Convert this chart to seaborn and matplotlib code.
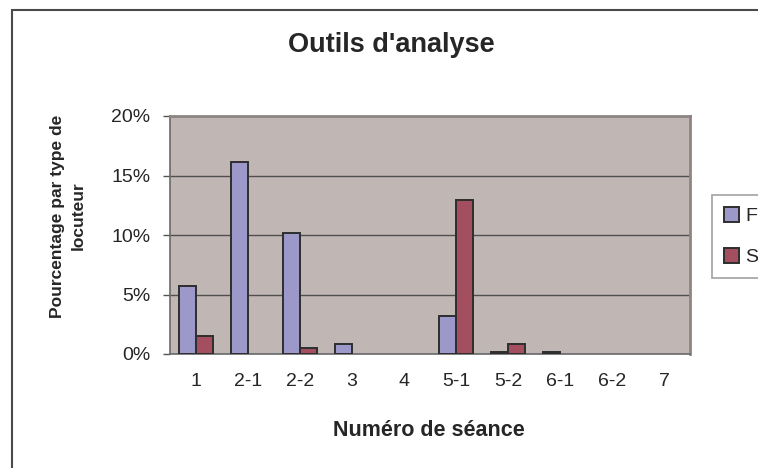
import matplotlib
matplotlib.use("Agg")
import matplotlib.pyplot as plt
import matplotlib.patches as mpatches
from matplotlib.ticker import FuncFormatter, FixedLocator
import seaborn as sns
import pandas as pd

categories = ["1", "2-1", "2-2", "3", "4", "5-1", "5-2", "6-1", "6-2", "7"]
series_f = [5.7, 16.1, 10.2, 0.8, 0.0, 3.2, 0.2, 0.2, 0.0, 0.0]
series_s = [1.5, 0.0, 0.5, 0.0, 0.0, 12.9, 0.8, 0.0, 0.0, 0.0]
series_names = ["F", "S"]
y_ticks = [0, 5, 10, 15, 20]

df = pd.DataFrame({
    "seance": categories * 2,
    "pct": series_f + series_s,
    "type": [series_names[0]] * len(categories) + [series_names[1]] * len(categories),
})

sns.set_theme(style="white")
plt.rcParams["font.family"] = ["Liberation Sans", "DejaVu Sans"]
txt = "#262626"

fig = plt.figure(figsize=(7.58, 4.68), dpi=100)
fig.patch.set_facecolor("white")
ax = fig.add_axes([170 / 758, 1 - 354 / 468, 520 / 758, 238 / 468])

sns.barplot(data=df, x="seance", y="pct", hue="type", order=categories,
            hue_order=series_names, palette=["#9c98ca", "#a44f5f"],
            width=0.65, edgecolor="#2e2e2e", linewidth=1.4, saturation=1,
            legend=False, ax=ax, zorder=3)

# bars of zero height are not drawn in the reference
for p in ax.patches:
    if p.get_height() == 0:
        p.set_visible(False)

ax.set_facecolor("#c0b7b4")
ax.set_xlim(-0.5, len(categories) - 0.5)
ax.set_ylim(0, 20)
ax.yaxis.set_major_locator(FixedLocator(y_ticks))
ax.yaxis.set_major_formatter(FuncFormatter(lambda v, p: f"{v:.0f}%"))
ax.grid(axis="y", color="#4f4f4f", linewidth=1.0, zorder=1)
ax.set_axisbelow(True)

ax.set_xticks(range(len(categories)))
ax.set_xticklabels(categories)
ax.set_xticks([i - 0.5 for i in range(len(categories) + 1)], minor=True)
ax.tick_params(axis="x", which="major", length=0, pad=14, labelsize=14, labelcolor=txt)
ax.tick_params(axis="x", which="minor", length=5, width=1, color="#555555", direction="out")
ax.tick_params(axis="y", which="major", length=5, width=1, color="#555555", direction="out",
               pad=9, labelsize=14, labelcolor=txt, left=True)

for side in ["top", "right"]:
    ax.spines[side].set_color("#8e8484")
    ax.spines[side].set_linewidth(2)
for side in ["left", "bottom"]:
    ax.spines[side].set_color("#6a6a6a")
    ax.spines[side].set_linewidth(1.2)

ax.set_xlabel("")
ax.set_ylabel("")

fig.text(391 / 758, 1 - 45 / 468, "Outils d'analyse", ha="center", va="center",
         fontsize=19.5, fontweight="bold", color=txt)
fig.text(429 / 758, 1 - 430 / 468, "Numéro de séance", ha="center", va="center",
         fontsize=15.5, fontweight="bold", color=txt)
fig.text(68 / 758, 1 - 216 / 468, "Pourcentage par type de\nlocuteur", ha="center",
         va="center", rotation=90, fontsize=12.5, fontweight="bold", color=txt,
         linespacing=1.5)

# chart-area frame
fig.patches.append(mpatches.Rectangle((12 / 758, -0.05), 1.0, 1 - 10 / 468 + 0.05,
                                      transform=fig.transFigure, fill=False,
                                      edgecolor="#4a4a4a", linewidth=1.5))

# legend
handles = [mpatches.Patch(facecolor=c, edgecolor="#2e2e2e", linewidth=1.4, label=n)
           for c, n in zip(["#9c98ca", "#a44f5f"], series_names)]
leg = fig.legend(handles=handles, loc="upper left",
                 bbox_to_anchor=(712 / 758, 1 - 195 / 468), frameon=True,
                 fontsize=14, handlelength=0.8, handleheight=0.8, handletextpad=0.3,
                 labelspacing=1.2, borderpad=0.6, fancybox=False, borderaxespad=0)
leg.get_frame().set_edgecolor("#8a8a8a")
leg.get_frame().set_linewidth(1.2)
for t in leg.get_texts():
    t.set_color(txt)

fig.savefig("out.png", dpi=100)
